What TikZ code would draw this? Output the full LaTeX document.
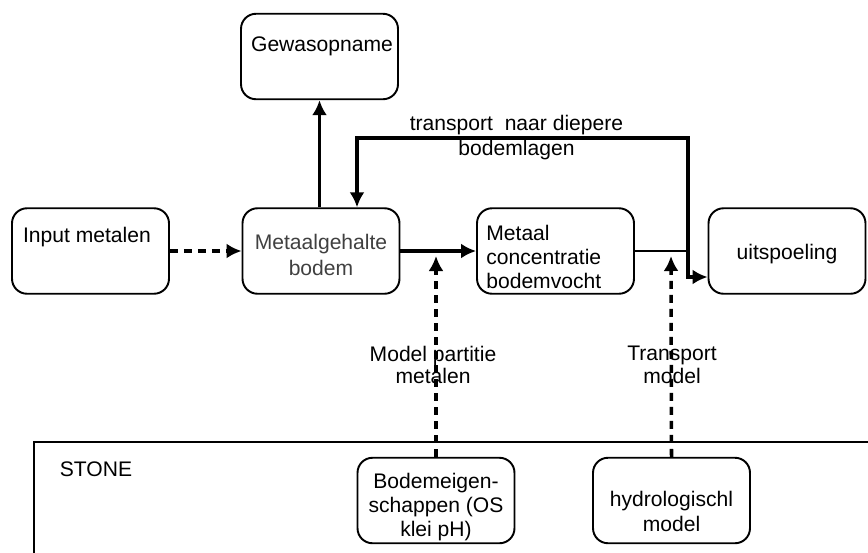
\documentclass[tikz,border=0pt]{standalone}
\usepackage{fontspec}
\setmainfont{Liberation Sans}
\usepackage{tikz}
\usetikzlibrary{arrows.meta}
\definecolor{grijs}{RGB}{64,64,64}

\tikzset{
    blok/.style={draw, line width=1.1pt, rounded corners=0.3cm, minimum width=3.14cm, minimum height=1.71cm, inner sep=0pt},
    tekst/.style={font=\fontsize{12}{13.6}\selectfont, align=center, inner sep=0pt},
    pijl/.style={-{Latex[length=0.3cm,width=0.3cm]}, line width=2.2pt},
    stippel/.style={-{Latex[length=0.3cm,width=0.3cm]}, line width=2pt, dash pattern=on 0.16cm off 0.12cm},
}

\begin{document}
\begin{tikzpicture}[x=0.02cm, y=-0.02cm]
    \useasboundingbox (0,0) rectangle (868,552);
    \clip (0,0) rectangle (868,552);
    % blokken
    \node[blok] (gewas) at (319.5,56.5) {};
    \node[tekst] (gewastxt) at (322,46) {Gewasopname};
    \node[blok] (input) at (90.5,251) {};
    \node[tekst] (inputtxt) at (87,237) {Input metalen};
    \node[blok] (gehalte) at (321,251) {};
    \node[tekst, text=grijs, font=\fontsize{12}{15.3}\selectfont] (gehaltetxt) at (321,255) {Metaalgehalte\\bodem};
    \node[blok] (metaal) at (555.5,251) {};
    \node[tekst, align=left, anchor=west] (metaaltxt) at (486,257) {Metaal\\concentratie\\bodemvocht};
    \node[blok] (uitsp) at (787,251) {};
    \node[tekst] (uitsptxt) at (787,254) {uitspoeling};
    % STONE
    \draw[line width=1.1pt] (34,442) rectangle (900,620);
    \node[tekst] (stone) at (96,469) {STONE};
    \node[blok] (bodem) at (436,500.5) {};
    \node[tekst] (bodemtxt) at (436,507) {Bodemeigen-\\schappen (OS\\klei pH)};
    \node[blok] (hydro) at (671.5,500.5) {};
    \node[tekst, font=\fontsize{12}{14.2}\selectfont] (hydrotxt) at (671.5,511) {hydrologischl\\model};
    % labels
    \node[tekst, font=\fontsize{12}{13}\selectfont] (partitie) at (433,365) {Model partitie\\metalen};
    \node[tekst, font=\fontsize{12}{13}\selectfont] (transmod) at (672,365) {Transport\\model};
    \node[tekst, font=\fontsize{12}{14.2}\selectfont] (diepere) at (516.5,138) {transport\ \ naar diepere\\bodemlagen};
    % pijlen
    \draw[stippel] (input.east) -- (gehalte.west);
    \draw[pijl] (gewas.south |- gehalte.north) -- (gewas.south);
    \draw[pijl] (gehalte.east) -- (metaal.west);
    \coordinate (knik) at (688,252);
    \coordinate (terug) at (357,138);
    \draw[line width=1.1pt] (metaal.east) -- (metaal.east -| knik);
    \draw[pijl] (knik) |- (terug) -- (terug |- gehalte.north);
    \draw[pijl] (knik) |- ([yshift=-0.52cm]uitsp.west);
    \coordinate (partop) at (436,256);
    \coordinate (transtop) at (671,256);
    \draw[stippel] (bodem.north) -- (partop);
    \draw[stippel] (hydro.north) -- (transtop);
\end{tikzpicture}
\end{document}
